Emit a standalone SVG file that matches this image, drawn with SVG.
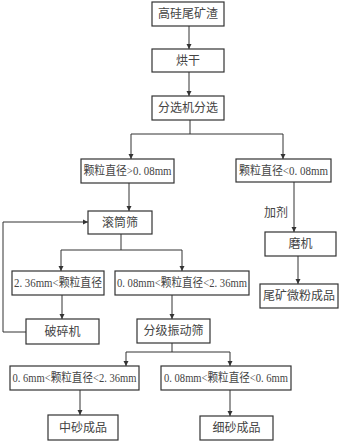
<svg xmlns="http://www.w3.org/2000/svg" width="343" height="443" viewBox="0 0 343 443">
<style>
.b{fill:#fff;stroke:#333;stroke-width:1.2}
.t{font-family:"Liberation Serif","Noto Sans CJK SC",serif;font-size:12px;fill:#444;text-anchor:middle;dominant-baseline:central}
.c{fill:none;stroke:#333;stroke-width:1}
</style>
<defs>
<marker id="a" markerWidth="6" markerHeight="6" refX="5" refY="3" orient="auto" markerUnits="userSpaceOnUse">
<path d="M0,0.5 L5,3 L0,5.5 Z" fill="#333"/>
</marker>
</defs>
<rect width="343" height="443" fill="#fff"/>
<g id="connectors">
<path class="c" d="M189,26 V49" marker-end="url(#a)"/>
<path class="c" d="M189,72 V96" marker-end="url(#a)"/>
<path class="c" d="M190,120 V134"/>
<path class="c" d="M131,134 H283"/>
<path class="c" d="M131,134 V159" marker-end="url(#a)"/>
<path class="c" d="M283,134 V159" marker-end="url(#a)"/>
<path class="c" d="M129,183 V211" marker-end="url(#a)"/>
<path class="c" d="M26,332 H3 V222 H88" marker-end="url(#a)"/>
<path class="c" d="M121,234 V250"/>
<path class="c" d="M61,250 H182"/>
<path class="c" d="M61,250 V271" marker-end="url(#a)"/>
<path class="c" d="M182,250 V271" marker-end="url(#a)"/>
<path class="c" d="M62,295 V319" marker-end="url(#a)"/>
<path class="c" d="M172,295 V319" marker-end="url(#a)"/>
<path class="c" d="M172,343 V352"/>
<path class="c" d="M126,352 H230"/>
<path class="c" d="M126,352 V366" marker-end="url(#a)"/>
<path class="c" d="M230,352 V366" marker-end="url(#a)"/>
<path class="c" d="M80,390 V415" marker-end="url(#a)"/>
<path class="c" d="M230,390 V416" marker-end="url(#a)"/>
<path class="c" d="M294,182 V232" marker-end="url(#a)"/>
<path class="c" d="M298,256 V284" marker-end="url(#a)"/>
<text class="t" x="276" y="213">加剂</text>
</g>
<g id="n1"><rect class="b" x="152" y="2" width="72" height="24"/><text class="t" x="188" y="14">高硅尾矿渣</text></g>
<g id="n2"><rect class="b" x="152" y="49" width="72" height="23"/><text class="t" x="188" y="60.5">烘干</text></g>
<g id="n3"><rect class="b" x="152" y="96" width="72" height="24"/><text class="t" x="188" y="108">分选机分选</text></g>
<g id="n4"><rect class="b" x="81" y="159" width="93" height="24"/><text class="t" x="127.5" y="171" textLength="88" lengthAdjust="spacingAndGlyphs">颗粒直径&gt;0. 08mm</text></g>
<g id="n5"><rect class="b" x="236" y="159" width="95" height="23"/><text class="t" x="283.5" y="170.5" textLength="89" lengthAdjust="spacingAndGlyphs">颗粒直径&lt;0. 08mm</text></g>
<g id="n6"><rect class="b" x="88" y="211" width="64" height="23"/><text class="t" x="120" y="222.5">滚筒筛</text></g>
<g id="n7"><rect class="b" x="12" y="271" width="92" height="24"/><text class="t" x="58" y="283" textLength="88" lengthAdjust="spacingAndGlyphs">2. 36mm&lt;颗粒直径</text></g>
<g id="n8"><rect class="b" x="115" y="271" width="134" height="24"/><text class="t" x="182" y="283" textLength="130" lengthAdjust="spacingAndGlyphs">0. 08mm&lt;颗粒直径&lt;2. 36mm</text></g>
<g id="n9"><rect class="b" x="26" y="319" width="73" height="25"/><text class="t" x="62.5" y="331.5">破碎机</text></g>
<g id="n10"><rect class="b" x="137" y="319" width="73" height="24"/><text class="t" x="173.5" y="331">分级振动筛</text></g>
<g id="n11"><rect class="b" x="10" y="366" width="129" height="24"/><text class="t" x="74.5" y="378" textLength="124" lengthAdjust="spacingAndGlyphs">0. 6mm&lt;颗粒直径&lt;2. 36mm</text></g>
<g id="n12"><rect class="b" x="161" y="366" width="130" height="24"/><text class="t" x="226" y="378" textLength="124" lengthAdjust="spacingAndGlyphs">0. 08mm&lt;颗粒直径&lt;0. 6mm</text></g>
<g id="n13"><rect class="b" x="48" y="415" width="70" height="25"/><text class="t" x="83" y="427.5">中砂成品</text></g>
<g id="n14"><rect class="b" x="200" y="416" width="73" height="24"/><text class="t" x="236.5" y="428">细砂成品</text></g>
<g id="n15"><rect class="b" x="265" y="232" width="71" height="24"/><text class="t" x="300.5" y="244">磨机</text></g>
<g id="n16"><rect class="b" x="260" y="284" width="78" height="24"/><text class="t" x="299" y="296">尾矿微粉成品</text></g>
</svg>
